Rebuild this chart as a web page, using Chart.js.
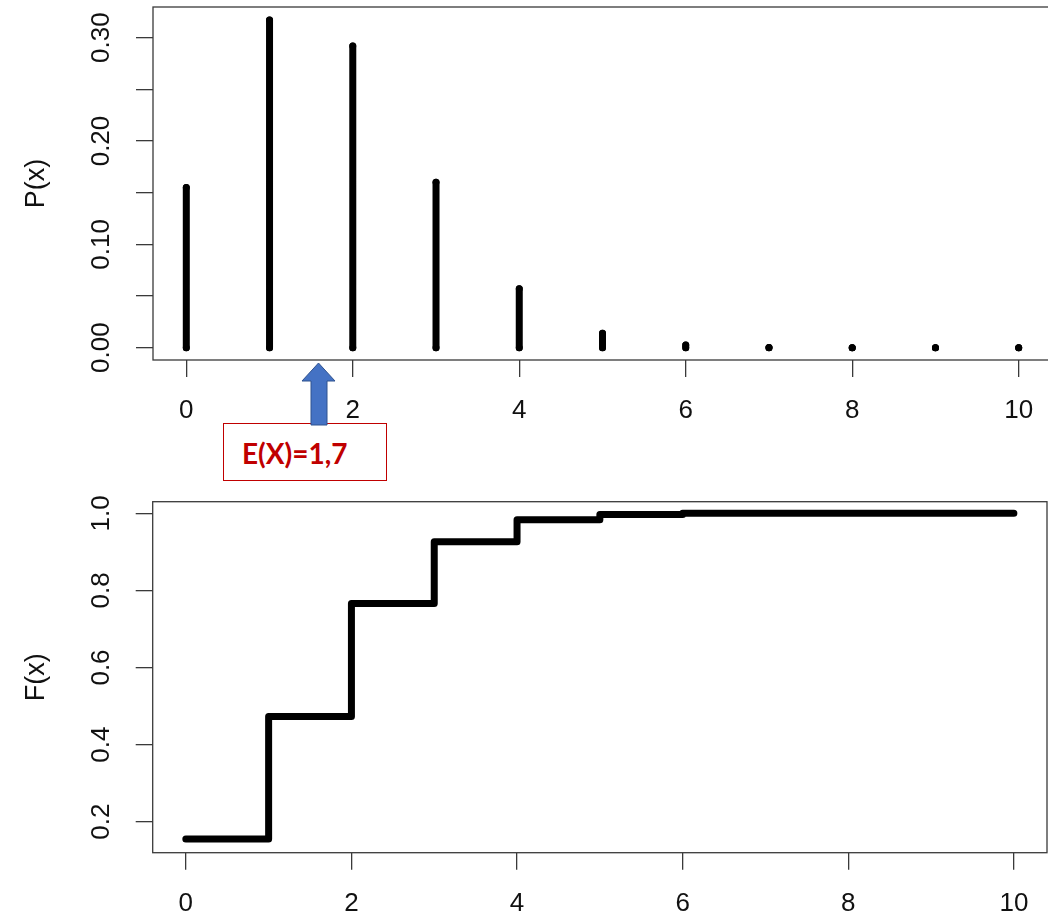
<!DOCTYPE html>
<html>
<head>
<meta charset="utf-8">
<script src="https://cdn.jsdelivr.net/npm/chart.js@4.4.1/dist/chart.umd.min.js"></script>
<style>
  html, body { margin: 0; padding: 0; background: #fff; }
  #wrap { position: relative; width: 1048px; height: 916px; overflow: hidden; background: #fff; }
  #wrap canvas { position: absolute; left: 0; }
  #pmf { top: 0; }
  #cdf { top: 440px; }
  #evBox {
    position: absolute; left: 223px; top: 423px; width: 162px; height: 56px;
    border: 1.5px solid #c00000; background: #fff; box-sizing: content-box;
  }
  #evText {
    position: absolute; left: 242px; top: 436px; line-height: 36px;
    font: bold 28px Lato, "Open Sans", sans-serif; color: #c00000; white-space: nowrap;
  }
  #evArrow { position: absolute; left: 296px; top: 358px; }
</style>
</head>
<body>
<div id="wrap">
  <canvas id="pmf" width="1060" height="440" style="width:1060px;height:440px"></canvas>
  <canvas id="cdf" width="1060" height="476" style="width:1060px;height:476px"></canvas>
  <div id="evBox"></div>
  <div id="evText">E(X)=1,7</div>
  <svg id="evArrow" width="46" height="70" viewBox="0 0 46 70">
    <polygon points="22.5,5 39,23 31,23 31,67 15,67 15,23 6,23"
             fill="#4472c4" stroke="#2f528f" stroke-width="1"/>
  </svg>
</div>
<script>
(function () {
  'use strict';

  // ── Data ──────────────────────────────────────────────────────────────────
  var X_VALUES = [0, 1, 2, 3, 4, 5, 6, 7, 8, 9, 10];
  var P_VALUES = [0.155, 0.317, 0.292, 0.160, 0.057, 0.014, 0.0025, 0.0003, 0.00002, 0.000001, 0.0000001];
  var F_VALUES = [0.155, 0.473, 0.766, 0.926, 0.983, 0.997, 1.0, 1.0, 1.0, 1.0, 1.0];

  var X_TICKS = [0, 2, 4, 6, 8, 10];
  var X_TICK_LABELS = ['0', '2', '4', '6', '8', '10'];
  var P_TICKS = [0, 0.05, 0.10, 0.15, 0.20, 0.25, 0.30];
  var P_TICK_LABELS = ['0.00', '', '0.10', '', '0.20', '', '0.30'];
  var F_TICKS = [0.2, 0.4, 0.6, 0.8, 1.0];
  var F_TICK_LABELS = ['0.2', '0.4', '0.6', '0.8', '1.0'];

  var AXIS = '#3a3a3a';
  var INK = '#000';
  var TEXT = '#111';
  var FONT = '"Liberation Sans", Arial, sans-serif';

  // ── R-like frame, tick labels and axis title ──────────────────────────────
  function rFrame(yTicks, yLabels, title) {
    return {
      id: 'rFrame',
      afterDraw: function (chart) {
        var ctx = chart.ctx, a = chart.chartArea;
        var xs = chart.scales.x, ys = chart.scales.y;
        ctx.save();
        ctx.strokeStyle = AXIS;
        ctx.lineWidth = 1.3;
        ctx.strokeRect(a.left, a.top, a.right - a.left, a.bottom - a.top);

        ctx.fillStyle = TEXT;
        ctx.textAlign = 'center';
        ctx.textBaseline = 'middle';
        ctx.font = '26px ' + FONT;
        X_TICKS.forEach(function (v, i) {
          ctx.fillText(X_TICK_LABELS[i], xs.getPixelForValue(v), a.bottom + 51);
        });
        yTicks.forEach(function (v, i) {
          if (!yLabels[i]) { return; }
          ctx.save();
          ctx.translate(102, ys.getPixelForValue(v));
          ctx.rotate(-Math.PI / 2);
          ctx.fillText(yLabels[i], 0, 0);
          ctx.restore();
        });
        ctx.font = '27px ' + FONT;
        ctx.translate(37, (a.top + a.bottom) / 2);
        ctx.rotate(-Math.PI / 2);
        ctx.fillText(title, 0, 0);
        ctx.restore();
      }
    };
  }

  function xScale(height) {
    return {
      type: 'linear', min: -0.4, max: 10.4,
      afterBuildTicks: function (s) { s.ticks = X_TICKS.map(function (v) { return { value: v }; }); },
      afterFit: function (s) { s.height = height; },
      grid: { drawOnChartArea: false, drawTicks: true, tickLength: 17, color: AXIS, lineWidth: 1.3 },
      border: { display: false },
      ticks: { display: false }
    };
  }

  function yScale(min, max, ticks, width) {
    return {
      type: 'linear', min: min, max: max,
      afterBuildTicks: function (s) { s.ticks = ticks.map(function (v) { return { value: v }; }); },
      afterFit: function (s) { s.width = width; },
      grid: { drawOnChartArea: false, drawTicks: true, tickLength: 17, color: AXIS, lineWidth: 1.3 },
      border: { display: false },
      ticks: { display: false }
    };
  }

  // ── P(x): vertical spikes ─────────────────────────────────────────────────
  var spikes = [];
  X_VALUES.forEach(function (x, i) {
    spikes.push({ x: x, y: 0 }, { x: x, y: P_VALUES[i] }, { x: x, y: null });
  });

  new Chart(document.getElementById('pmf'), {
    type: 'line',
    data: {
      datasets: [{
        data: spikes,
        borderColor: INK,
        borderWidth: 7,
        borderCapStyle: 'round',
        spanGaps: false,
        pointRadius: 3.5,
        pointBackgroundColor: INK,
        pointBorderWidth: 0,
        tension: 0
      }]
    },
    options: {
      responsive: false,
      animation: false,
      events: [],
      layout: { padding: { left: 0, top: 7, right: 8, bottom: 0 } },
      plugins: { legend: { display: false }, tooltip: { enabled: false } },
      scales: {
        x: xScale(80),
        y: yScale(-0.0119, 0.3297, P_TICKS, 153)
      }
    },
    plugins: [rFrame(P_TICKS, P_TICK_LABELS, 'P(x)')]
  });

  // ── F(x): step function ───────────────────────────────────────────────────
  new Chart(document.getElementById('cdf'), {
    type: 'line',
    data: {
      datasets: [{
        data: X_VALUES.map(function (x, i) { return { x: x, y: F_VALUES[i] }; }),
        stepped: 'before',
        borderColor: INK,
        borderWidth: 7,
        borderCapStyle: 'round',
        borderJoinStyle: 'round',
        pointRadius: 0,
        tension: 0
      }]
    },
    options: {
      responsive: false,
      animation: false,
      events: [],
      layout: { padding: { left: 0, top: 61.7, right: 13, bottom: 0 } },
      plugins: { legend: { display: false }, tooltip: { enabled: false } },
      scales: {
        x: xScale(63.3),
        y: yScale(0.1196, 1.0301, F_TICKS, 152.7)
      }
    },
    plugins: [rFrame(F_TICKS, F_TICK_LABELS, 'F(x)')]
  });
}());
</script>
</body>
</html>
